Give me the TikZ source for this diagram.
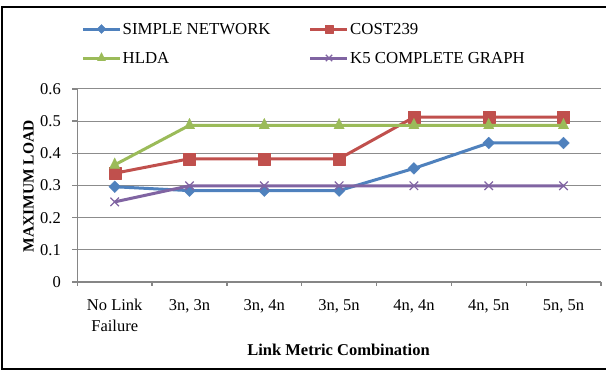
\documentclass[tikz,border=0pt]{standalone}
\usepackage{fontspec}
\setmainfont{Liberation Serif}
\usetikzlibrary{plotmarks}
\definecolor{cblue}{HTML}{4F81BD}
\definecolor{cred}{HTML}{C0504D}
\definecolor{cgreen}{HTML}{9BBB59}
\definecolor{cpurple}{HTML}{8064A2}
\definecolor{gridgray}{HTML}{8C8C8C}
\definecolor{axisgray}{HTML}{868686}
\begin{document}
\begin{tikzpicture}[x=1pt,y=-1pt,
  frame/.style={draw=black, line width=2pt},
  gridline/.style={draw=gridgray, line width=1pt},
  axisline/.style={draw=axisgray, line width=1.3pt},
  series/.style={line width=3pt, line join=round},
  ticklab/.style={font=\fontsize{16.5}{19}\selectfont, inner sep=0pt},
  legtext/.style={font=\fontsize{16.8}{19}\selectfont, inner sep=0pt, anchor=west},
  titlelab/.style={font=\fontsize{16.5}{19}\bfseries\selectfont, inner sep=0pt},
  mblue/.style={mark=square*, mark options={rotate=45, solid, line width=0.3pt, fill=cblue, draw=cblue}},
  mred/.style={mark=square*, mark options={solid, line width=0.3pt, fill=cred, draw=cred}},
  mgreen/.style={mark=triangle*, mark options={xscale=0.85, solid, line width=0.3pt, fill=cgreen, draw=cgreen}},
  mpurple/.style={mark=x, mark options={solid, line width=1.2pt, draw=cpurple}}]
\useasboundingbox (0,0) rectangle (606,370);
% outer frame
\coordinate (f1) at (608,7.3);
\coordinate (f2) at (2,7.3);
\coordinate (f3) at (2,368.8);
\coordinate (f4) at (608,368.8);
\draw[frame] (f1) -- (f2) -- (f3) -- (f4);

\begin{scope}[shift={(0pt,-282pt)}, y=321.8pt]
  % grid
  \foreach \i in {1,...,6}{
    \coordinate (gl\i) at (77.3,\i/10);
    \coordinate (gr\i) at (601,\i/10);
    \coordinate (gt\i) at (72,\i/10);
    \draw[gridline] (gl\i) -- (gr\i);
    \draw[axisline] (gt\i) -- (gl\i);
  }
  % axes
  \coordinate (o) at (77.3,0);
  \coordinate (xe) at (601,0);
  \coordinate (ye) at (77.3,0.6);
  \coordinate (yt0) at (72,0);
  \draw[axisline] (yt0) -- (o);
  \draw[axisline] (ye) -- (o) -- (xe);
  \foreach \i in {0,...,7}{
    \coordinate (xt\i) at ({77.3+74.81*\i},0);
    \draw[axisline] (xt\i) -- ++(0pt,-4pt);
  }
  % y tick labels
  \foreach \i/\v in {0/0,1/0.1,2/0.2,3/0.3,4/0.4,5/0.5,6/0.6}{
    \node[ticklab, anchor=east] (yl\i) at (61,\i/10) {\v};
  }
  % data coordinates
  \coordinate (s1) at (114.7,0.296);
  \coordinate (s2) at (189.5,0.284);
  \coordinate (s3) at (264.3,0.284);
  \coordinate (s4) at (339.1,0.284);
  \coordinate (s5) at (413.9,0.353);
  \coordinate (s6) at (488.7,0.432);
  \coordinate (s7) at (563.5,0.432);
  \coordinate (c1) at (114.7,0.338);
  \coordinate (c2) at (189.5,0.383);
  \coordinate (c3) at (264.3,0.383);
  \coordinate (c4) at (339.1,0.383);
  \coordinate (c5) at (413.9,0.512);
  \coordinate (c6) at (488.7,0.512);
  \coordinate (c7) at (563.5,0.512);
  \coordinate (h1) at (114.7,0.364);
  \coordinate (h2) at (189.5,0.487);
  \coordinate (h3) at (264.3,0.487);
  \coordinate (h4) at (339.1,0.487);
  \coordinate (h5) at (413.9,0.487);
  \coordinate (h6) at (488.7,0.487);
  \coordinate (h7) at (563.5,0.487);
  \coordinate (k1) at (114.7,0.249);
  \coordinate (k2) at (189.5,0.299);
  \coordinate (k3) at (264.3,0.299);
  \coordinate (k4) at (339.1,0.299);
  \coordinate (k5) at (413.9,0.299);
  \coordinate (k6) at (488.7,0.299);
  \coordinate (k7) at (563.5,0.299);
  \draw[series, cblue, mblue, mark size=4.2pt] plot coordinates {(s1) (s2) (s3) (s4) (s5) (s6) (s7)};
  \draw[series, cred, mred, mark size=6pt] plot coordinates {(c1) (c2) (c3) (c4) (c5) (c6) (c7)};
  \draw[series, cgreen, mgreen, mark size=7pt] plot coordinates {(h1) (h2) (h3) (h4) (h5) (h6) (h7)};
  \draw[series, cpurple, mpurple, mark size=6pt] plot coordinates {(k1) (k2) (k3) (k4) (k5) (k6) (k7)};
\end{scope}

% x tick labels
\node[ticklab, anchor=base] (xl1) at (114.7,310) {No Link};
\node[ticklab, anchor=base] (xl1b) at (114.7,331) {Failure};
\node[ticklab, anchor=base] (xl2) at (189.5,310) {3n, 3n};
\node[ticklab, anchor=base] (xl3) at (264.3,310) {3n, 4n};
\node[ticklab, anchor=base] (xl4) at (339.1,310) {3n, 5n};
\node[ticklab, anchor=base] (xl5) at (413.9,310) {4n, 4n};
\node[ticklab, anchor=base] (xl6) at (488.7,310) {4n, 5n};
\node[ticklab, anchor=base] (xl7) at (563.5,310) {5n, 5n};

% axis titles
\node[titlelab, anchor=base] (xtitle) at (338.5,355.7) {Link Metric Combination};
\node[titlelab, rotate=90, font=\fontsize{15.5}{18}\bfseries\selectfont] (ytitle) at (28.5,186.5) {MAXIMUM LOAD};

% legend
\coordinate (la1) at (83,29);   \coordinate (lam) at (101.5,29);  \coordinate (la2) at (120,29);
\coordinate (lb1) at (310,29);  \coordinate (lbm) at (329,29);    \coordinate (lb2) at (347,29);
\coordinate (lc1) at (83,58); \coordinate (lcm) at (101.5,58);\coordinate (lc2) at (120,58);
\coordinate (ld1) at (310,58);\coordinate (ldm) at (329,58);  \coordinate (ld2) at (347,58);
\draw[series, cblue, mblue, mark size=3.2pt, mark indices={2}] plot coordinates {(la1) (lam) (la2)};
\draw[series, cred, mred, mark size=4.3pt, mark indices={2}] plot coordinates {(lb1) (lbm) (lb2)};
\draw[series, cgreen, mgreen, mark size=5.5pt, mark indices={2}] plot coordinates {(lc1) (lcm) (lc2)};
\draw[series, cpurple, mpurple, mark size=4.5pt, mark indices={2}] plot coordinates {(ld1) (ldm) (ld2)};
\node[legtext] (lta) at (122.5,29) {SIMPLE NETWORK};
\node[legtext] (ltb) at (350,29) {COST239};
\node[legtext] (ltc) at (122.5,58) {HLDA};
\node[legtext] (ltd) at (350,58) {K5 COMPLETE GRAPH};
\end{tikzpicture}
\end{document}
